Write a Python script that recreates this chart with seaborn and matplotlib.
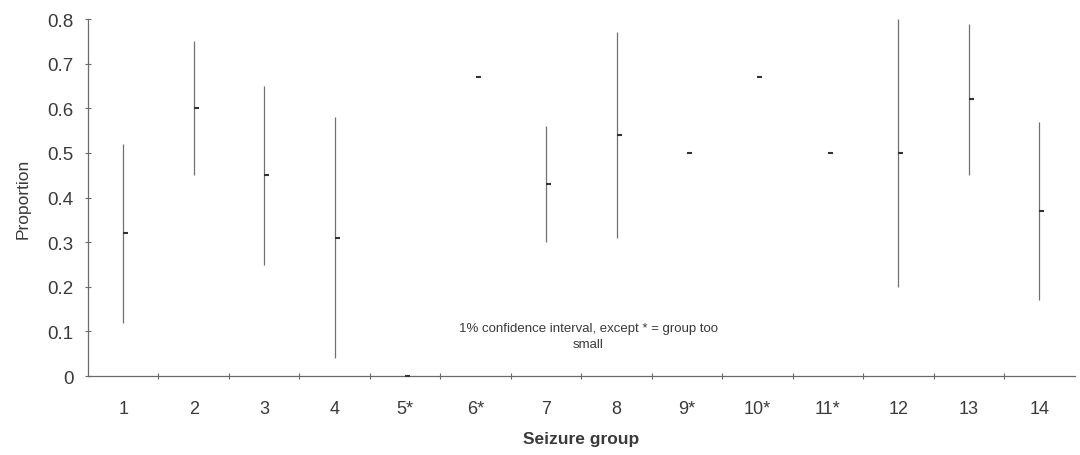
import numpy as np
import matplotlib
matplotlib.use("Agg")
import matplotlib.pyplot as plt
import seaborn as sns

# ---- data ----
groups = ["1", "2", "3", "4", "5*", "6*", "7", "8", "9*", "10*", "11*", "12", "13", "14"]
proportion = [0.32, 0.60, 0.45, 0.31, 0.00, 0.67, 0.43, 0.54, 0.50, 0.67, 0.50, 0.50, 0.62, 0.37]
ci_low = [0.12, 0.45, 0.25, 0.04, np.nan, np.nan, 0.30, 0.31, np.nan, np.nan, np.nan, 0.20, 0.45, 0.17]
ci_high = [0.52, 0.75, 0.65, 0.58, np.nan, np.nan, 0.56, 0.77, np.nan, np.nan, np.nan, 0.80, 0.79, 0.57]
y_ticks = [0.0, 0.1, 0.2, 0.3, 0.4, 0.5, 0.6, 0.7, 0.8]
y_tick_labels = ["0", "0.1", "0.2", "0.3", "0.4", "0.5", "0.6", "0.7", "0.8"]
note = "1% confidence interval, except * = group too\nsmall"

sns.set_theme(style="white")
plt.rcParams["font.family"] = ["Liberation Sans", "DejaVu Sans"]

text_col = "#3a3a3a"
line_col = "#6a6a6a"

fig = plt.figure(figsize=(10.8, 4.56), dpi=100)
ax = fig.add_axes([0.0815, 0.173, 0.9135, 0.783])

# confidence intervals
ax.vlines(groups, ci_low, ci_high, color="#707070", linewidth=0.9)

# point estimates as short dashes to the right of the line
dash = [(0, 0), (1, 0)]
sns.scatterplot(x=groups, y=proportion, ax=ax, marker=dash, s=50,
                color="#333333", edgecolor="#333333", linewidth=1.5, zorder=3)

ax.set_xlim(-0.5, len(groups) - 0.5)
ax.set_ylim(0, 0.8)
ax.set_yticks(y_ticks)
ax.set_yticklabels(y_tick_labels)

ax.set_xticks(np.arange(len(groups)))
ax.set_xticklabels(groups)
ax.set_xticks(np.arange(len(groups) - 1) + 0.5, minor=True)
ax.tick_params(axis="x", which="major", length=0, pad=17, labelsize=13, labelcolor=text_col)
ax.tick_params(axis="x", which="minor", direction="inout", length=5, width=0.8, color=line_col, bottom=True)
ax.tick_params(axis="y", which="major", direction="inout", length=5, width=0.8, color=line_col,
               left=True, pad=8, labelsize=13.5, labelcolor=text_col)

for side in ["top", "right"]:
    ax.spines[side].set_visible(False)
for side in ["left", "bottom"]:
    ax.spines[side].set_color(line_col)
    ax.spines[side].set_linewidth(0.9)

ax.set_xlabel("Seizure group", fontsize=12.5, fontweight="bold", color=text_col, labelpad=10)
ax.set_ylabel("Proportion", fontsize=12.5, color=text_col, labelpad=12)

ax.text(6.6, 0.09, note, ha="center", va="center", fontsize=9.5, color=text_col,
        multialignment="center", linespacing=1.5)

ax.grid(False)
fig.savefig("out.png", dpi=100, facecolor="white")
